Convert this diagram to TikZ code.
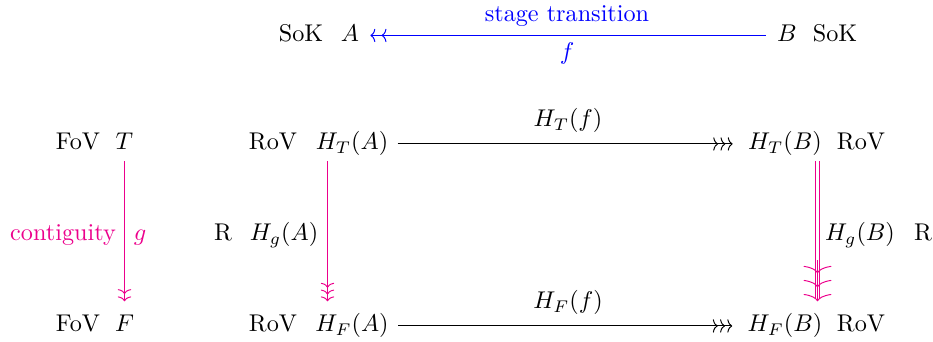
\documentclass[tikz,border=0pt]{standalone}
\usetikzlibrary{arrows.meta}
\definecolor{mag}{RGB}{236,0,140}
\definecolor{bl}{RGB}{0,0,255}
\tikzset{
  lbl/.style={anchor=base, inner sep=0pt},
  obj/.style={anchor=base, inner sep=0pt, text height=7.5pt, text depth=2.5pt},
  twohead/.style={-{Computer Modern Rightarrow[length=2pt,width=5.5pt,sep=2.6pt]Computer Modern Rightarrow[length=2pt,width=5.5pt]}},
  twoheadv/.style={-{Computer Modern Rightarrow[length=2pt,width=5.5pt,sep=1pt]Computer Modern Rightarrow[length=2pt,width=5.5pt]}},
  threehead/.style={-{Computer Modern Rightarrow[length=2pt,width=5.5pt,sep=1pt]Computer Modern Rightarrow[length=2pt,width=5.5pt,sep=1pt]Computer Modern Rightarrow[length=2pt,width=5.5pt]}},
  threeheadv/.style={-{Computer Modern Rightarrow[length=2pt,width=5.5pt,sep=0.8pt]Computer Modern Rightarrow[length=2pt,width=5.5pt,sep=0.8pt]Computer Modern Rightarrow[length=2pt,width=5.5pt]}},
  bighead/.style={-{Computer Modern Rightarrow[length=3pt,width=11.5pt,sep=2.8pt]Computer Modern Rightarrow[length=3pt,width=11.5pt,sep=2.8pt]Computer Modern Rightarrow[length=3pt,width=11.5pt]}},
}
\begin{document}
\begin{tikzpicture}[x=0.4132pt, y=-0.4132pt]
\useasboundingbox (0,0) rectangle (933,342);
% row 1
\node[lbl] (sokA) at (301,41.5) {SoK};
\node[obj] (A) at (350,41.5) {$A$};
\node[obj] (B) at (787,41.5) {$B$};
\node[lbl] (sokB) at (835,41.5) {SoK};
\node[lbl, text=bl] (st) at (567,22) {stage transition};
\node[lbl, text=bl] (fl) at (567,60) {$f$};
% row 2
\node[lbl] (fovT) at (78,150) {FoV};
\node[obj] (T) at (124.5,150) {$T$};
\node[lbl] (rovA1) at (273,150) {RoV};
\node[obj] (HTA) at (352,150) {$H_T(A)$};
\node[obj] (HTB) at (785,150) {$H_T(B)$};
\node[lbl] (rovB1) at (861,150) {RoV};
\node[lbl] (HTf) at (568,127) {$H_T(f)$};
% row 3
\node[lbl, text=mag] (cont) at (63,241) {contiguity};
\node[lbl, text=mag] (g) at (140,241) {$g$};
\node[lbl] (RA) at (223,241) {R};
\node[lbl] (HgA) at (284,241) {$H_g(A)$};
\node[lbl] (HgB) at (860,241) {$H_g(B)$};
\node[lbl] (RB) at (923,241) {R};
% row 4
\node[lbl] (fovF) at (78,332) {FoV};
\node[obj] (F) at (124.5,332) {$F$};
\node[lbl] (rovA2) at (273,332) {RoV};
\node[obj] (HFA) at (352,332) {$H_F(A)$};
\node[obj] (HFB) at (785,332) {$H_F(B)$};
\node[lbl] (rovB2) at (861,332) {RoV};
\node[lbl] (HFf) at (568,309) {$H_F(f)$};
% arrows
\draw[draw=bl, color=bl, twohead, shorten <=4.5pt, shorten >=4.5pt] (B.west) -- (A.east);
\draw[threehead, shorten <=3.7pt, shorten >=6.2pt] (HTA.east) -- (HTB.west);
\draw[threehead, shorten <=3.7pt, shorten >=6.2pt] (HFA.east) -- (HFB.west);
\draw[draw=mag, color=mag, twoheadv, shorten <=2pt, shorten >=5pt] (T.south) -- (F.north);
\draw[draw=mag, color=mag, threeheadv, shorten <=2pt, shorten >=5pt] ([xshift=-10.12pt]HTA.south) -- ([xshift=-10.12pt]HFA.north);
\draw[draw=mag, color=mag, double=white, double distance=1.1pt, shorten <=2pt, shorten >=6pt] ([xshift=13.43pt]HTB.south) -- ([xshift=13.43pt]HFB.north);
\draw[draw=mag, color=mag, bighead, shorten >=5pt] ([xshift=13.43pt, yshift=22pt]HFB.north) -- ([xshift=13.43pt]HFB.north);
\end{tikzpicture}
\end{document}
